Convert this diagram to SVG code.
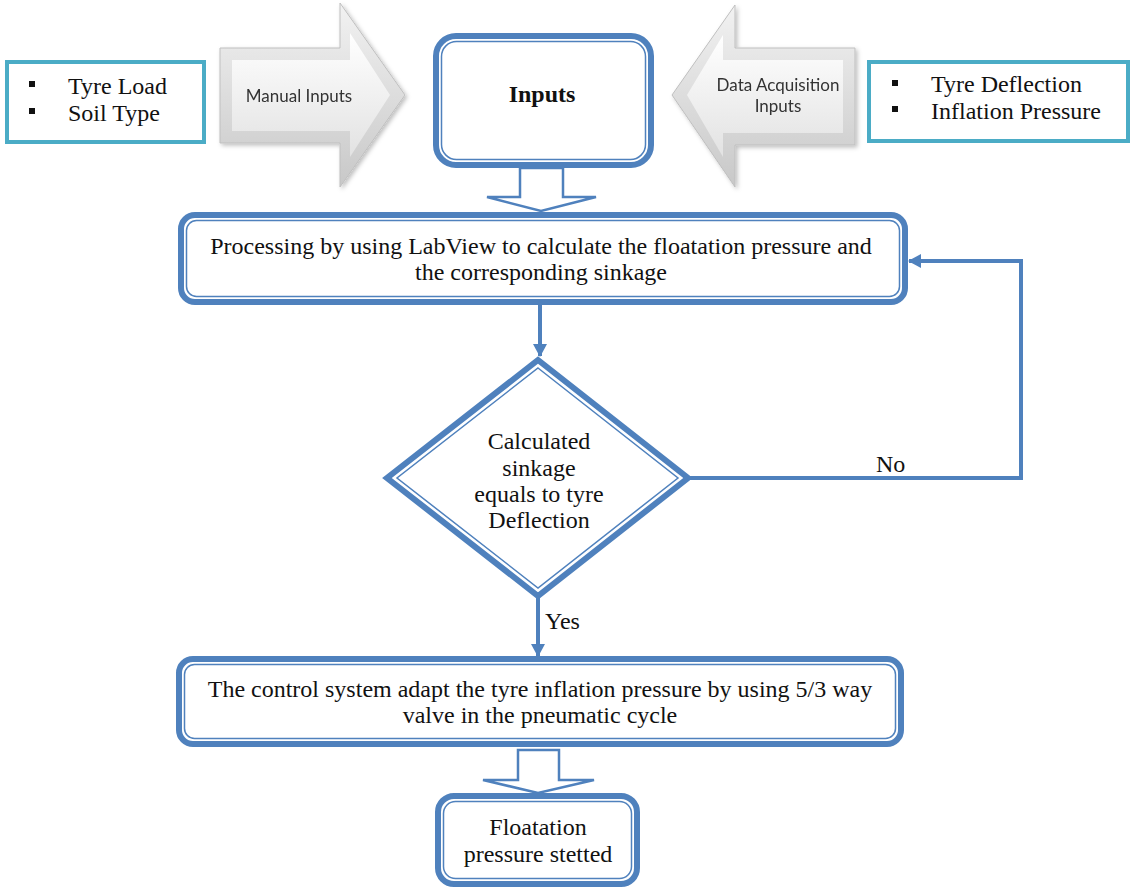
<svg xmlns="http://www.w3.org/2000/svg" width="1133" height="888" viewBox="0 0 1133 888">
<defs>
<style>
.srf{font-family:'Liberation Serif','DejaVu Serif','Times New Roman',serif;font-size:24px;fill:#111}
.sans{font-family:Lato,'Liberation Sans',sans-serif;font-size:17px;fill:#333}
.outer{fill:#fff;stroke:#4F81BD;stroke-width:6}
.inner{fill:none;stroke:#4F81BD;stroke-width:1.5}
.teal{fill:#fff;stroke:#4BACC6;stroke-width:4}
.conn{fill:none;stroke:#4F81BD;stroke-width:4}
.blk{fill:#fff;stroke:#4F81BD;stroke-width:2.5}
.bul{fill:#111}
</style>
<linearGradient id="gO" x1="0" y1="0" x2="0" y2="1">
<stop offset="0" stop-color="#f2f2f2"/><stop offset="1" stop-color="#c8c8c8"/>
</linearGradient>
<linearGradient id="gI" x1="0" y1="0" x2="0" y2="1">
<stop offset="0" stop-color="#ffffff"/><stop offset="1" stop-color="#e2e2e2"/>
</linearGradient>
<filter id="sh" x="-10%" y="-10%" width="130%" height="130%">
<feDropShadow dx="2" dy="2" stdDeviation="2" flood-color="#000" flood-opacity="0.25"/>
</filter>
<marker id="ah" markerWidth="14" markerHeight="14" refX="12" refY="7" orient="auto" markerUnits="userSpaceOnUse">
<path d="M0,0 L13,7 L0,14 z" fill="#4F81BD"/>
</marker>
</defs>
<rect width="1133" height="888" fill="#fff"/>

<g id="connectors">
<line class="conn" x1="540" y1="303" x2="540" y2="356" marker-end="url(#ah)"/>
<line class="conn" x1="538" y1="598" x2="538" y2="656" marker-end="url(#ah)"/>
<polyline class="conn" points="690,478 1021,478 1021,261 909,261" marker-end="url(#ah)"/>
<path class="blk" d="M520,168 L563,168 L563,197 L596,197 L541,211 L487,197 L520,197 Z"/>
<path class="blk" d="M518,750 L559,750 L559,780 L594,780 L538,793 L483,780 L518,780 Z"/>
<text class="srf" font-family="Liberation Serif, DejaVu Serif, serif" x="876" y="472">No</text>
<text class="srf" font-family="Liberation Serif, DejaVu Serif, serif" x="545" y="629">Yes</text>
</g>

<g id="tyre-load-box">
<rect class="teal" x="7" y="62" width="197" height="80"/>
<rect class="bul" x="29" y="81" width="6" height="6"/>
<rect class="bul" x="29" y="108" width="6" height="6"/>
<text class="srf" font-family="Liberation Serif, DejaVu Serif, serif" x="68" y="94">Tyre Load</text>
<text class="srf" font-family="Liberation Serif, DejaVu Serif, serif" x="68" y="121">Soil Type</text>
</g>

<g id="manual-inputs" filter="url(#sh)">
<polygon points="220,48 340,48 340,3 405,95 340,187 340,143 220,143" fill="url(#gO)" stroke="#bfbfbf" stroke-width="1"/>
<polygon points="232,60 350,60 350,33 390,95 350,157 350,131 232,131" fill="url(#gI)"/>
<text class="sans" x="299" y="102" text-anchor="middle">Manual Inputs</text>
</g>

<g id="inputs">
<rect class="outer" x="436" y="36" width="215" height="129" rx="20"/>
<rect class="inner" x="441.5" y="41.5" width="204" height="118" rx="15"/>
<text class="srf" font-family="Liberation Serif, DejaVu Serif, serif" x="542" y="102" text-anchor="middle" font-weight="bold">Inputs</text>
</g>

<g id="data-acquisition" filter="url(#sh)">
<polygon points="855,48 735,48 735,5 672,95 735,187 735,145 855,145" fill="url(#gO)" stroke="#bfbfbf" stroke-width="1"/>
<polygon points="843,60 723,60 723,35 687,95 723,157 723,133 843,133" fill="url(#gI)"/>
<text class="sans" x="778" y="91" text-anchor="middle">Data Acquisition</text>
<text class="sans" x="778" y="112" text-anchor="middle">Inputs</text>
</g>

<g id="tyre-deflection-box">
<rect class="teal" x="869" y="62" width="259" height="79"/>
<rect class="bul" x="892" y="80" width="6" height="6"/>
<rect class="bul" x="892" y="106" width="6" height="6"/>
<text class="srf" font-family="Liberation Serif, DejaVu Serif, serif" x="931" y="92">Tyre Deflection</text>
<text class="srf" font-family="Liberation Serif, DejaVu Serif, serif" x="931" y="119">Inflation Pressure</text>
</g>

<g id="processing">
<rect class="outer" x="181" y="215" width="724" height="87" rx="14"/>
<rect class="inner" x="186.5" y="220.5" width="713" height="76" rx="10"/>
<text class="srf" font-family="Liberation Serif, DejaVu Serif, serif" x="541" y="254" text-anchor="middle">Processing by using LabView to calculate the floatation pressure and</text>
<text class="srf" font-family="Liberation Serif, DejaVu Serif, serif" x="541" y="280" text-anchor="middle">the corresponding sinkage</text>
</g>

<g id="decision">
<polygon class="outer" points="538,360 688,478 538,596 387,478"/>
<polygon class="inner" points="538,368 678,478 538,588 397,478"/>
<text class="srf" font-family="Liberation Serif, DejaVu Serif, serif" x="539" y="449" text-anchor="middle">Calculated</text>
<text class="srf" font-family="Liberation Serif, DejaVu Serif, serif" x="539" y="476" text-anchor="middle">sinkage</text>
<text class="srf" font-family="Liberation Serif, DejaVu Serif, serif" x="539" y="502" text-anchor="middle">equals to tyre</text>
<text class="srf" font-family="Liberation Serif, DejaVu Serif, serif" x="539" y="528" text-anchor="middle">Deflection</text>
</g>

<g id="control">
<rect class="outer" x="179" y="659" width="722" height="85" rx="14"/>
<rect class="inner" x="184.5" y="664.5" width="711" height="74" rx="10"/>
<text class="srf" font-family="Liberation Serif, DejaVu Serif, serif" x="540" y="697" text-anchor="middle">The control system adapt the tyre inflation pressure by using 5/3 way</text>
<text class="srf" font-family="Liberation Serif, DejaVu Serif, serif" x="540" y="723" text-anchor="middle">valve in the pneumatic cycle</text>
</g>

<g id="floatation">
<rect class="outer" x="438" y="796" width="199" height="88" rx="16"/>
<rect class="inner" x="443.5" y="801.5" width="188" height="77" rx="12"/>
<text class="srf" font-family="Liberation Serif, DejaVu Serif, serif" x="538" y="835" text-anchor="middle">Floatation</text>
<text class="srf" font-family="Liberation Serif, DejaVu Serif, serif" x="538" y="862" text-anchor="middle">pressure stetted</text>
</g>
</svg>
